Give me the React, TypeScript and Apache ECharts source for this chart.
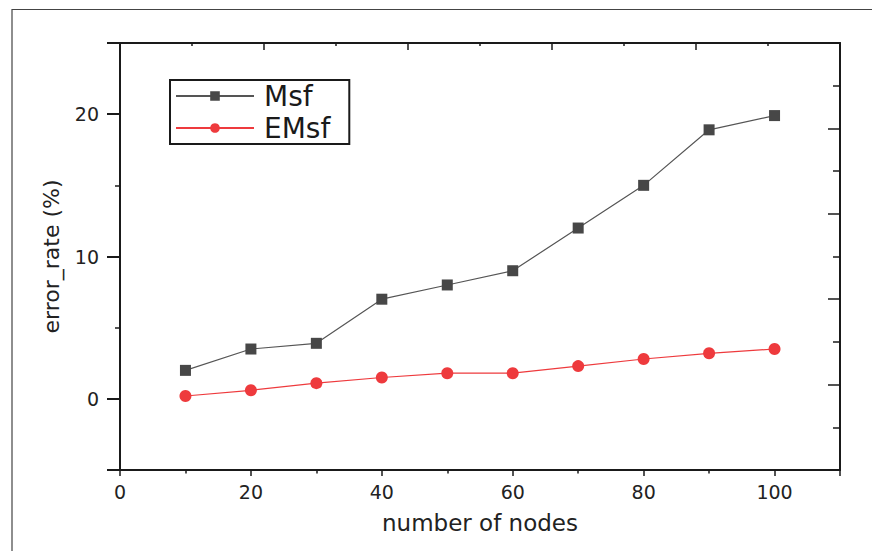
import React, { useEffect, useRef } from "react";
import * as echarts from "echarts";

const nodes = [10, 20, 30, 40, 50, 60, 70, 80, 90, 100];
const msf = [2.0, 3.5, 3.9, 7.0, 8.0, 9.0, 12.0, 15.0, 18.9, 19.9];
const emsf = [0.2, 0.6, 1.1, 1.5, 1.8, 1.8, 2.3, 2.8, 3.2, 3.5];
const yMajorValues = [0, 10, 20];
const seriesNames = ["Msf", "EMsf"];

const FONT = "DejaVu Sans";
const INK = "#1a1a1a";

export default function App() {
  const ref = useRef<HTMLDivElement>(null);

  useEffect(() => {
    if (!ref.current) return;
    const chart = echarts.init(ref.current, undefined, { renderer: "svg" });
    const axisLine = { show: true, onZero: false, lineStyle: { color: INK, width: 2 } };
    chart.setOption({
      animation: false,
      backgroundColor: "#ffffff",
      grid: { left: 120, right: 32, top: 43, bottom: 81, containLabel: false, outerBoundsMode: "none" },
      graphic: [
        {
          type: "polyline",
          shape: { points: [[12, 551], [12, 9.5], [872, 9.5]] },
          style: { stroke: "#444", lineWidth: 1.2, fill: "none" },
          silent: true,
        },
      ],
      legend: {
        data: seriesNames,
        orient: "vertical",
        left: 170,
        top: 80,
        padding: [2, 19, 2, 5],
        itemWidth: 78,
        itemHeight: 12,
        itemGap: 4,
        borderColor: INK,
        borderWidth: 2,
        textStyle: { fontFamily: FONT, fontSize: 28, color: INK, padding: [0, 0, 0, 5] },
      },
      xAxis: [
        {
          type: "value",
          position: "bottom",
          min: 0,
          max: 110,
          interval: 20,
          axisLine,
          axisTick: { show: true, inside: false, length: 6, lineStyle: { color: INK, width: 1.5 } },
          minorTick: { show: true, splitNumber: 2, length: 3.5, lineStyle: { color: INK, width: 1.5 } },
          splitLine: { show: false },
          axisLabel: { margin: 12, fontFamily: FONT, fontSize: 19, color: "#222", showMaxLabel: false },
          name: "number of nodes",
          nameLocation: "middle",
          nameGap: 41,
          nameTextStyle: { fontFamily: FONT, fontSize: 23, color: "#222" },
        },
        {
          type: "value",
          position: "top",
          min: 0,
          max: 5,
          interval: 1,
          axisLine,
          axisTick: { show: true, inside: true, length: 7, lineStyle: { color: INK, width: 1.5 } },
          minorTick: { show: true, splitNumber: 2, length: 3, lineStyle: { color: INK, width: 1.5 } },
          splitLine: { show: false },
          axisLabel: { show: false },
        },
      ],
      yAxis: [
        {
          type: "value",
          position: "left",
          min: -5,
          max: 25,
          splitNumber: 3,
          axisLine,
          axisTick: { show: true, inside: false, length: 13, lineStyle: { color: INK, width: 2 } },
          minorTick: { show: true, splitNumber: 2, length: 5, lineStyle: { color: INK, width: 1.5 } },
          splitLine: { show: false },
          axisLabel: {
            margin: 21,
            fontFamily: FONT,
            fontSize: 19,
            color: "#222",
            customValues: yMajorValues,
          },
          name: "error_rate (%)",
          nameLocation: "middle",
          nameGap: 58,
          nameRotate: 90,
          nameTextStyle: { fontFamily: FONT, fontSize: 22, color: "#222" },
        },
        {
          type: "value",
          position: "right",
          min: 0,
          max: 5,
          interval: 1,
          axisLine,
          axisTick: { show: true, inside: true, length: 12, lineStyle: { color: INK, width: 1.5 } },
          minorTick: { show: true, splitNumber: 2, length: 7, lineStyle: { color: INK, width: 1.5 } },
          splitLine: { show: false },
          axisLabel: { show: false },
        },
      ],
      series: [
        {
          name: seriesNames[0],
          type: "line",
          xAxisIndex: 0,
          yAxisIndex: 0,
          data: nodes.map((x, i) => [x, msf[i]]),
          symbol: "rect",
          symbolSize: 11,
          itemStyle: { color: "#474747" },
          lineStyle: { color: "#555", width: 1.2 },
        },
        {
          name: seriesNames[1],
          type: "line",
          xAxisIndex: 0,
          yAxisIndex: 0,
          data: nodes.map((x, i) => [x, emsf[i]]),
          symbol: "circle",
          symbolSize: 12,
          itemStyle: { color: "#ee3a3d" },
          lineStyle: { color: "#ee3a3d", width: 1.2 },
        },
      ],
    });
    return () => chart.dispose();
  }, []);

  return (
    <div
      ref={ref}
      style={{ position: "fixed", left: 0, top: 0, width: 872, height: 551, background: "#fff" }}
    />
  );
}
